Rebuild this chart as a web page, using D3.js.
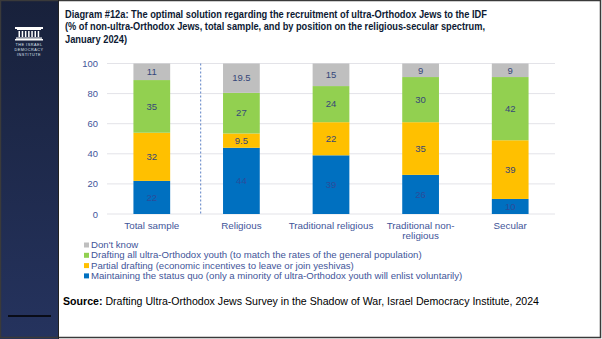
<!DOCTYPE html>
<html>
<head>
<meta charset="utf-8">
<script src="https://cdn.jsdelivr.net/npm/d3@7"></script>
<style>
body{margin:0;background:#fff;}
svg{display:block;font-family:"Liberation Sans",Arial,sans-serif;}
</style>
</head>
<body>
<script>
const categories = ["Total sample","Religious","Traditional religious","Traditional non-religious","Secular"]
const catLines = [["Total sample"],["Religious"],["Traditional religious"],["Traditional non-","religious"],["Secular"]]
const statusQuo = [22,44,39,26,10]
const partial = [32,9.5,22,35,39]
const draftAll = [35,27,24,30,42]
const dontKnow = [11,19.5,15,9,9]
const yTicks = [0,20,40,60,80,100]

const seriesNames = ["Maintaining the status quo (only a minority of ultra-Orthodox youth will enlist voluntarily)",
 "Partial drafting (economic incentives to leave or join yeshivas)",
 "Drafting all ultra-Orthodox youth (to match the rates of the general population)",
 "Don't know"]
const colors = ["#0070c0","#ffc000","#92d050","#bfbfbf"]

const W = 602, H = 339
const svg = d3.select("body").append("svg").attr("width",W).attr("height",H)

// sidebar
const grad = svg.append("defs").append("linearGradient").attr("id","side").attr("x1",0).attr("y1",0).attr("x2",0).attr("y2",1)
grad.append("stop").attr("offset","0%").attr("stop-color","#18213b")
grad.append("stop").attr("offset","100%").attr("stop-color","#25335e")
svg.append("rect").attr("x",0).attr("y",0).attr("width",58).attr("height",H).attr("fill","url(#side)")
svg.append("line").attr("x1",8).attr("x2",51).attr("y1",316).attr("y2",316).attr("stroke","#000").attr("stroke-width",1.5)

// logo
const logo = svg.append("g").attr("fill","#fff")
logo.append("rect").attr("x",15).attr("y",27).attr("width",28).attr("height",2)
logo.append("rect").attr("x",17).attr("y",29).attr("width",24).attr("height",1)
d3.range(7).forEach(i=>{
  logo.append("rect").attr("x",18.5+i*3.2).attr("y",31).attr("width",1.5).attr("height",6)
})
logo.append("rect").attr("x",16).attr("y",37.5).attr("width",26).attr("height",1.2)
logo.append("rect").attr("x",15).attr("y",39).attr("width",28).attr("height",1.5)
const logoTxt = ["THE ISRAEL","DEMOCRACY","INSTITUTE"]
logo.selectAll("text.l").data(logoTxt).enter().append("text")
  .attr("x",29).attr("y",(d,i)=>45.5+i*5.3).attr("text-anchor","middle")
  .attr("font-size",3.8).attr("letter-spacing",0.5).attr("fill","#dfe3ee").text(d=>d)

// title
const titleLines = ["Diagram #12a: The optimal solution regarding the recruitment of ultra-Orthodox Jews to the IDF",
 "(% of non-ultra-Orthodox Jews, total sample, and by position on the religious-secular spectrum,",
 "January 2024)"]
const titleW = [422,420,62]
svg.selectAll("text.title").data(titleLines).enter().append("text").attr("class","title")
  .attr("x",65).attr("y",(d,i)=>18+i*12.3).attr("font-size",10.6).attr("font-weight","bold")
  .attr("textLength",(d,i)=>titleW[i]).attr("lengthAdjust","spacingAndGlyphs")
  .attr("fill","#0d1a33").text(d=>d)

// chart
const x = d3.scaleBand().domain(categories).range([107,555]).paddingInner(0.59).paddingOuter(0.295)
const y = d3.scaleLinear().domain([0,100]).range([214,63.5])

svg.append("g").selectAll("line").data(yTicks).enter().append("line")
  .attr("x1",107).attr("x2",555).attr("y1",d=>y(d)).attr("y2",d=>y(d))
  .attr("stroke","#e3e3e8").attr("stroke-width",1)

const yAxis = svg.append("g").attr("transform","translate(107,0)")
  .call(d3.axisLeft(y).tickValues(yTicks).tickSize(0).tickPadding(9))
yAxis.select(".domain").remove()
yAxis.selectAll("text").attr("font-size",9.4).attr("fill","#3f5599").attr("font-family","Liberation Sans, Arial, sans-serif")

const seriesData = [statusQuo,partial,draftAll,dontKnow]
const stacked = categories.map((c,i)=>{
  let acc = 0
  return seriesData.map((s,k)=>{ const v=s[i]; const r={cat:c,k:k,y0:acc,y1:acc+v,v:v}; acc+=v; return r })
})
const segs = stacked.flat()
svg.append("g").selectAll("rect").data(segs).enter().append("rect")
  .attr("x",d=>x(d.cat)).attr("width",x.bandwidth())
  .attr("y",d=>y(Math.min(d.y1,100))).attr("height",d=>y(d.y0)-y(Math.min(d.y1,100)))
  .attr("fill",d=>colors[d.k])
svg.append("g").selectAll("text").data(segs).enter().append("text")
  .attr("x",d=>x(d.cat)+x.bandwidth()/2).attr("y",d=>y((d.y0+Math.min(d.y1,100))/2)+3.3)
  .attr("text-anchor","middle").attr("font-size",9.5)
  .attr("fill",d=>d.k==0?"#2b4c9a":"#36477a").text(d=>d.v)

// separator
svg.append("line").attr("x1",200.7).attr("x2",200.7).attr("y1",y(100)).attr("y2",y(0))
  .attr("stroke","#5b7fc4").attr("stroke-width",1).attr("stroke-dasharray","2,2")

// x labels
const xl = svg.append("g")
categories.forEach((c,i)=>{
  const t = xl.append("text").attr("x",x(c)+x.bandwidth()/2).attr("y",228.5).attr("text-anchor","middle")
    .attr("font-size",9.8).attr("fill","#3f5599")
  catLines[i].forEach((l,j)=>t.append("tspan").attr("x",x(c)+x.bandwidth()/2).attr("dy",j?10:0).text(l))
})

// legend
const legOrder = [3,2,1,0]
const leg = svg.append("g").selectAll("g").data(legOrder).enter().append("g")
  .attr("transform",(d,i)=>`translate(84,${245+i*10.3})`)
leg.append("rect").attr("x",0).attr("y",-2.5).attr("width",5).attr("height",5).attr("fill",d=>colors[d])
const legText = leg.append("text").attr("x",7).attr("y",3).attr("font-size",9).attr("fill","#3f5599").text(d=>seriesNames[d])
// fit the longest entry to the width seen in the picture
const longest = legText.filter(d=>d===0).node().getComputedTextLength()
legText.attr("font-size",9*372/longest)

// source
const src = svg.append("text").attr("x",63).attr("y",304.5).attr("font-size",10.6).attr("fill","#000")
src.append("tspan").attr("font-weight","bold").text("Source:")
src.append("tspan").text(" Drafting Ultra-Orthodox Jews Survey in the Shadow of War, Israel Democracy Institute, 2024")

// frame
svg.append("rect").attr("x",0.5).attr("y",0.5).attr("width",W-2).attr("height",H-2)
  .attr("fill","none").attr("stroke","#3a3a3a").attr("stroke-width",1.5)
svg.append("line").attr("x1",58.5).attr("x2",58.5).attr("y1",0).attr("y2",H).attr("stroke","#222").attr("stroke-width",1)
</script>
</body>
</html>
